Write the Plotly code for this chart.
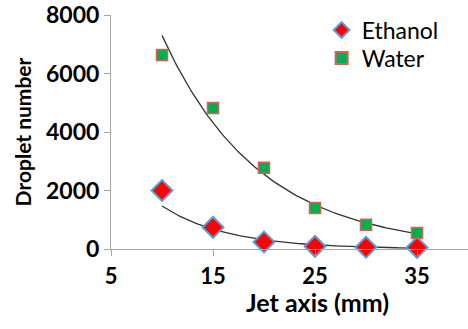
import numpy as np
import plotly.graph_objects as go

jet_axis = [10, 15, 20, 25, 30, 35]
ethanol = [2000, 740, 240, 90, 60, 50]
water = [6630, 4820, 2780, 1400, 830, 550]
x_ticks = [5, 15, 25, 35]
y_ticks = [0, 2000, 4000, 6000, 8000]

def exp_fit(x, y):
    x = np.asarray(x, float)
    b, a = np.polyfit(x, np.log(np.asarray(y, float)), 1)
    xs = np.linspace(x.min(), x.max(), 100)
    return xs, np.exp(a + b * xs)

FONT = "Lato"
fig = go.Figure()

for ys in (water, ethanol):
    xs, fy = exp_fit(jet_axis, ys)
    fig.add_trace(go.Scatter(x=xs, y=fy, mode="lines", showlegend=False,
                             line=dict(color="#333333", width=1.3), hoverinfo="skip"))

fig.add_trace(go.Scatter(x=jet_axis, y=ethanol, mode="markers", name="Ethanol",
                         legend="legend",
                         marker=dict(symbol="diamond", size=16, color="#ff0000",
                                     line=dict(color="#5b9bd5", width=2)),
                         cliponaxis=False))
fig.add_trace(go.Scatter(x=jet_axis, y=water, mode="markers", name="Water",
                         legend="legend2",
                         marker=dict(symbol="square", size=11, color="#00b050",
                                     line=dict(color="#d9605a", width=1.5)),
                         cliponaxis=False))

leg_common = dict(xanchor="left", yanchor="middle",
                  font=dict(family=FONT, size=23, color="black"),
                  bgcolor="rgba(0,0,0,0)", itemsizing="constant")

fig.update_layout(
    width=468, height=329,
    margin=dict(l=111, r=0, t=15, b=80),
    paper_bgcolor="white", plot_bgcolor="white",
    font=dict(family=FONT, color="black"),
    showlegend=True,
    legend=dict(x=0.59, y=0.936, **leg_common),
    legend2=dict(x=0.59, y=0.816, **leg_common),
    xaxis=dict(range=[5, 40], tickvals=x_ticks, ticktext=[str(v) for v in x_ticks],
               showgrid=False, zeroline=False, showline=True, linecolor="#a6a6a6",
               linewidth=1, ticks="outside", ticklen=6, tickcolor="#a6a6a6",
               ticklabelstandoff=2,
               tickfont=dict(family=FONT, size=22, color="black", weight="bold")),
    yaxis=dict(range=[0, 8000], tickvals=y_ticks, ticktext=[str(v) for v in y_ticks],
               showgrid=False, zeroline=False, showline=True, linecolor="#a6a6a6",
               linewidth=1, ticks="outside", ticklen=6, tickcolor="#a6a6a6",
               tickfont=dict(family=FONT, size=23, color="black", weight="bold"),
               title=dict(text="Droplet number", standoff=8,
                          font=dict(family=FONT, size=21, color="black", weight="bold"))),
    annotations=[dict(text="Jet axis (mm)", xref="paper", yref="paper",
                      x=0.578, y=-0.226, xanchor="center", yanchor="middle",
                      showarrow=False,
                      font=dict(family=FONT, size=25, color="black", weight="bold"))],
)

fig.write_html("out.html")
